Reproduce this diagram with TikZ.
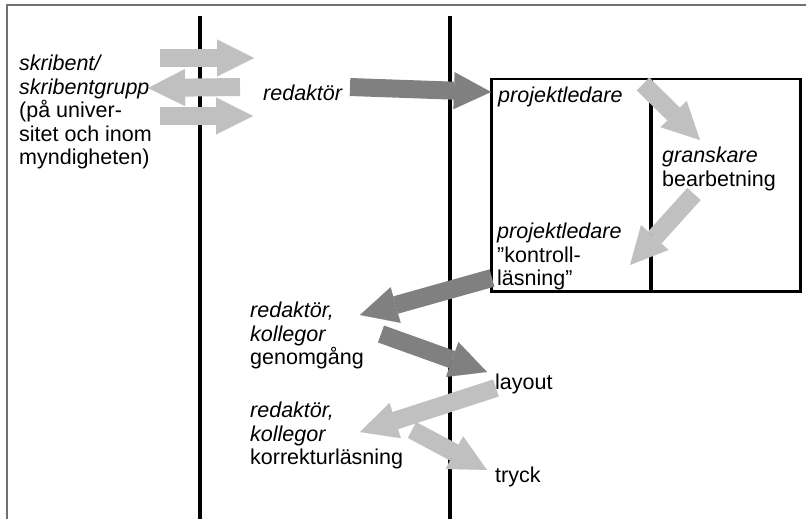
\documentclass[tikz,border=0pt]{standalone}
\usepackage{fontspec}
\setmainfont{Liberation Sans}
\usepackage{xcolor}
\usepackage{tikz}
\usetikzlibrary{arrows.meta,positioning,calc}

\definecolor{darkflow}{HTML}{808080}
\definecolor{lightflow}{HTML}{C0C0C0}
\definecolor{frame}{HTML}{707070}

\begin{document}
\begin{tikzpicture}[x=1pt, y=-1pt,
    lbl/.style={anchor=north west, inner sep=0pt, align=left, font=\fontsize{21.5}{23.5}\selectfont},
    lane/.style={line width=3.5pt},
    flow/.style={line width=18pt, -{Triangle[length=37pt, width=37pt, line width=0.1pt]}},
    darkarrow/.style={flow, draw=darkflow, fill=darkflow},
    lightarrow/.style={flow, draw=lightflow, fill=lightflow}
]
\useasboundingbox (0,0) rectangle (806,519);

% Frame and lanes
\draw[frame, line width=2pt] (7,519) -- (7,5) -- (806,5);
\draw[lane] (200,16) -- (200,519);
\draw[lane] (450,16) -- (450,519);
\node[draw, line width=2.5pt, minimum width=309pt, minimum height=212pt, inner sep=0pt, anchor=north west] (review) at (490,78) {};
\draw[lane] (651,78) -- (651,290);

% Labels
\node[lbl] (skribent) at (19,55) {\textit{skribent/}\\\textit{skribentgrupp}\\(på univer-\\sitet och inom\\myndigheten)};
\node[lbl] (redaktor) at (263,85) {\textit{redaktör}};
\node[lbl] (ledare) at (498,87) {\textit{projektledare}};
\node[lbl] (granskare) at (662,147) {\textit{granskare}\\bearbetning};
\node[lbl] (kontroll) at (497,223) {\textit{projektledare}\\”kontroll-\\läsning”};
\node[lbl] (genomgang) at (250,302) {\textit{redaktör,}\\\textit{kollegor}\\genomgång};
\node[lbl] (layout) at (495,374) {layout};
\node[lbl] (korrektur) at (250,402) {\textit{redaktör,}\\\textit{kollegor}\\korrekturläsning};
\node[lbl] (tryck) at (495,467) {tryck};

% Arrow ends
\coordinate (out1) at (160,58);   \coordinate (in1) at (254,58);
\coordinate (back1) at (240,87);  \coordinate (back2) at (148,88);
\coordinate (out2) at (160,116);  \coordinate (in2) at (253,116);
\coordinate (redOut) at (350,87); \coordinate (ledIn) at (491,92);
\coordinate (ledOut) at (643,84); \coordinate (graIn) at (700,140);
\coordinate (graOut) at (694,194); \coordinate (konIn) at (630,265);
\coordinate (konOut) at (492,278); \coordinate (genIn) at (360,315);
\coordinate (genOut) at (381,334); \coordinate (layIn) at (487,372);
\coordinate (layOut) at (496,388); \coordinate (korIn) at (360,432);
\coordinate (korOut) at (412,430); \coordinate (tryIn) at (487,470);

% Flows
\draw[lightarrow] (out1) -- (in1);
\draw[lightarrow] (back1) -- (back2);
\draw[lightarrow] (out2) -- (in2);
\draw[darkarrow] (redOut) -- (ledIn);
\draw[lightarrow] (ledOut) -- (graIn);
\draw[lightarrow] (graOut) -- (konIn);
\draw[darkarrow] (konOut) -- (genIn);
\draw[darkarrow] (genOut) -- (layIn);
\draw[lightarrow] (layOut) -- (korIn);
\draw[lightarrow] (korOut) -- (tryIn);

\end{tikzpicture}
\end{document}
